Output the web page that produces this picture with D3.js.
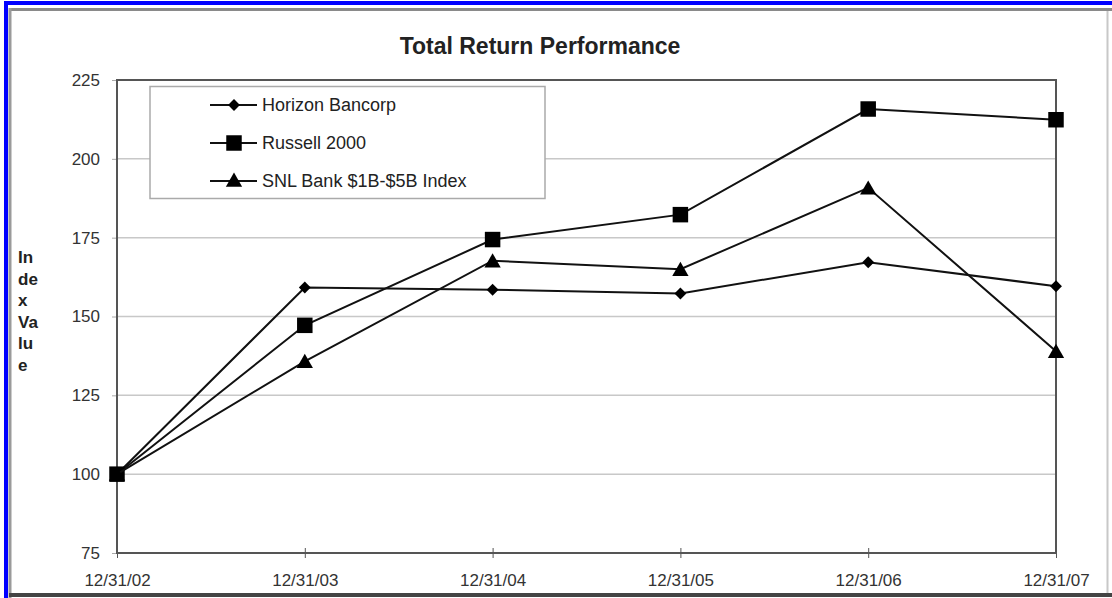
<!DOCTYPE html>
<html>
<head>
<meta charset="utf-8">
<script src="https://cdn.jsdelivr.net/npm/d3@7"></script>
<style>
  body { margin: 0; background: #fff; }
  svg { display: block; font-family: Arial, "Liberation Sans", sans-serif; }
</style>
</head>
<body>
<div id="chart"></div>
<script>
'use strict'

// data
const dates = ['12/31/02', '12/31/03', '12/31/04', '12/31/05', '12/31/06', '12/31/07']
const horizon = [100, 159.2, 158.5, 157.3, 167.2, 159.6]
const russell = [100, 147.2, 174.4, 182.3, 215.8, 212.4]
const snl = [100, 135.8, 167.7, 165.0, 190.8, 139.0]
const yTicks = [75, 100, 125, 150, 175, 200, 225]

const series = [
    {name: 'Horizon Bancorp', values: horizon, shape: 'diamond'},
    {name: 'Russell 2000', values: russell, shape: 'square'},
    {name: 'SNL Bank $1B-$5B Index', values: snl, shape: 'triangle'}
]

////////////////////////////////////
//////////// svg setup /////////////
////////////////////////////////////

const svgWidth = 1112
const svgHeight = 598
const margin = {left: 117, right: 56, top: 80, bottom: 45}
const width = svgWidth - margin.left - margin.right
const height = svgHeight - margin.top - margin.bottom

const root = d3.select('#chart').append('svg')
    .attr('width', svgWidth)
    .attr('height', svgHeight)

// outer frame: blue on top/left, grey bevel
root.append('rect').attr('x', 0).attr('y', 0).attr('width', svgWidth).attr('height', svgHeight).attr('fill', '#fff')
root.append('line').attr('x1', 4).attr('x2', svgWidth).attr('y1', 3).attr('y2', 3)
    .attr('stroke', '#0000ff').attr('stroke-width', 4)
root.append('line').attr('x1', 6).attr('x2', 6).attr('y1', 1).attr('y2', svgHeight)
    .attr('stroke', '#0000ff').attr('stroke-width', 4)
root.append('line').attr('x1', 9).attr('x2', svgWidth).attr('y1', 9.5).attr('y2', 9.5)
    .attr('stroke', '#8a8a8a').attr('stroke-width', 3)
root.append('line').attr('x1', 10).attr('x2', 10).attr('y1', 8).attr('y2', svgHeight)
    .attr('stroke', '#9a9a9a').attr('stroke-width', 3)
root.append('line').attr('x1', 1107.5).attr('x2', 1107.5).attr('y1', 11).attr('y2', 594)
    .attr('stroke', '#c8c8c8').attr('stroke-width', 2)
root.append('line').attr('x1', 9).attr('x2', svgWidth).attr('y1', 595).attr('y2', 595)
    .attr('stroke', '#444', ).attr('stroke-width', 4)

const svg = root.append('g')
    .attr('transform', `translate(${margin.left},${margin.top})`)

////////////////////////////////////
//////////////scales////////////////
////////////////////////////////////

const xScale = d3.scalePoint()
    .domain(dates)
    .range([0, width])

const yScale = d3.scaleLinear()
    .domain([75, 225])
    .range([height, 0])

// gridlines
svg.selectAll('.grid')
    .data(yTicks.slice(1, -1))
    .enter()
    .append('line')
    .attr('class', 'grid')
    .attr('x1', 0).attr('x2', width)
    .attr('y1', d => yScale(d)).attr('y2', d => yScale(d))
    .attr('stroke', '#c8c8c8')
    .attr('stroke-width', 1.5)

// y-axis
const yAxis = svg.append('g')
    .attr('id', 'y-axis')
    .call(d3.axisLeft(yScale).tickValues(yTicks).tickSize(5).tickPadding(12))
yAxis.select('.domain').remove()
yAxis.selectAll('line').attr('stroke', '#aaa')
yAxis.selectAll('text').attr('fill', '#333').style('font-size', '17px')

// x-axis
const xAxis = svg.append('g')
    .attr('id', 'x-axis')
    .attr('transform', `translate(0,${height})`)
    .call(d3.axisBottom(xScale).tickSizeInner(5).tickSizeOuter(0).tickPadding(16))
xAxis.select('.domain').remove()
xAxis.selectAll('line').attr('stroke', '#555').attr('y1', -5)
xAxis.selectAll('text').attr('fill', '#333').style('font-size', '17px')

// plot frame
svg.append('rect')
    .attr('x', 0).attr('y', 0)
    .attr('width', width).attr('height', height)
    .attr('fill', 'none')
    .attr('stroke', '#555')
    .attr('stroke-width', 2)

// title
root.append('text')
    .attr('x', 540).attr('y', 54)
    .attr('text-anchor', 'middle')
    .attr('font-weight', 'bold')
    .style('font-size', '23px')
    .attr('fill', '#222')
    .text('Total Return Performance')

// y label, broken into pieces like the original
const yLabel = ['In', 'de', 'x', 'Va', 'lu', 'e']
root.append('g').selectAll('text')
    .data(yLabel)
    .enter()
    .append('text')
    .attr('x', 18)
    .attr('y', (d, i) => 263 + i * 21.6)
    .attr('font-weight', 'bold')
    .style('font-size', '17px')
    .attr('fill', '#222')
    .text(d => d)

////////////////////////////////////
//////////////lines/////////////////
////////////////////////////////////

const symbols = {
    diamond: d3.symbol().type(d3.symbolDiamond2).size(90),
    square: d3.symbol().type(d3.symbolSquare).size(240),
    triangle: d3.symbol().type(d3.symbolTriangle).size(115)
}

const line = d3.line()
    .x((d, i) => xScale(dates[i]))
    .y(d => yScale(d))

series.forEach(s => {
    svg.append('path')
        .datum(s.values)
        .attr('d', line)
        .attr('fill', 'none')
        .attr('stroke', '#111')
        .attr('stroke-width', 2)

    svg.selectAll('.m-' + s.shape)
        .data(s.values)
        .enter()
        .append('path')
        .attr('class', 'm-' + s.shape)
        .attr('d', symbols[s.shape])
        .attr('transform', (d, i) => `translate(${xScale(dates[i])},${yScale(d) + (s.shape == 'triangle' ? 2 : 0)})`)
        .attr('fill', '#000')
})

////////////////////////////////////
//////////////legend////////////////
////////////////////////////////////

const legend = root.append('g').attr('id', 'legend')
legend.append('rect')
    .attr('x', 150).attr('y', 86.5)
    .attr('width', 395).attr('height', 112)
    .attr('fill', '#fff')
    .attr('stroke', '#aaa')
    .attr('stroke-width', 1.5)

const rows = legend.selectAll('.row')
    .data(series)
    .enter()
    .append('g')
    .attr('class', 'row')
    .attr('transform', (d, i) => `translate(0,${105 + i * 38})`)

rows.append('line')
    .attr('x1', 210).attr('x2', 257)
    .attr('y1', 0).attr('y2', 0)
    .attr('stroke', '#111').attr('stroke-width', 2)
rows.append('path')
    .attr('d', d => symbols[d.shape]())
    .attr('transform', d => `translate(234,${d.shape == 'triangle' ? 1 : 0})`)
    .attr('fill', '#000')
rows.append('text')
    .attr('x', 262).attr('y', 6)
    .style('font-size', '18px')
    .attr('fill', '#222')
    .text(d => d.name)
</script>
</body>
</html>
